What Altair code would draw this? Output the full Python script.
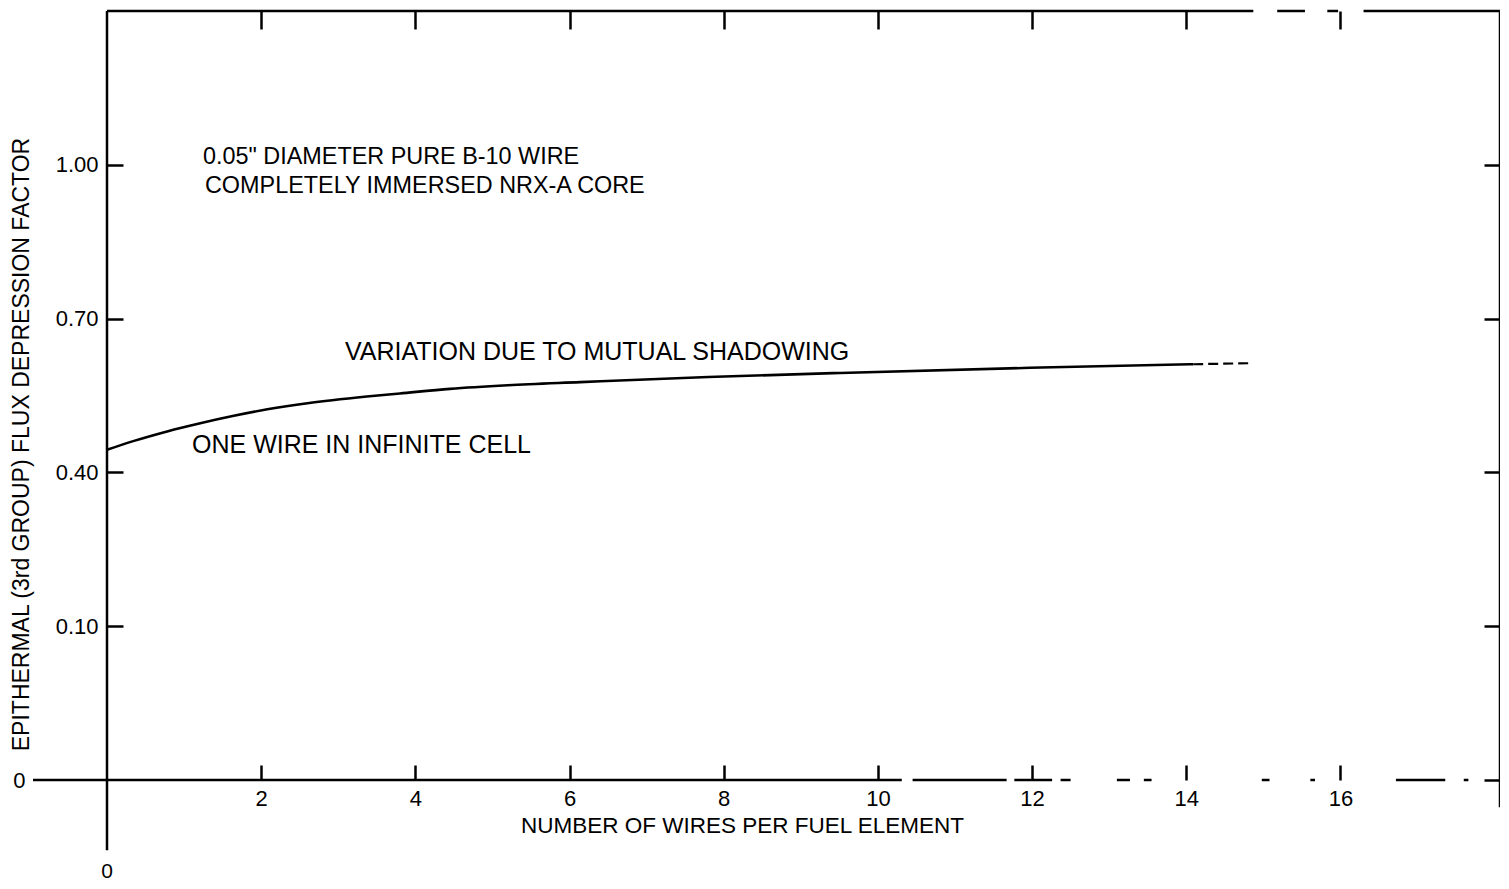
import altair as alt
import pandas as pd

# ---------------- data ----------------
wires = [0, 0.34, 0.78, 1.21, 1.63, 2.08, 2.6, 3.37, 3.8, 4.45, 5.2, 6.14, 7.8, 9.51, 11.97, 14.09]
factor = [0.444, 0.461, 0.480, 0.496, 0.510, 0.523, 0.535, 0.548, 0.554, 0.563, 0.570, 0.576, 0.586, 0.594, 0.604, 0.611]
wires_ext = [14.09, 14.83]
factor_ext = [0.611, 0.613]

x_ticks = [2, 4, 6, 8, 10, 12, 14, 16]
y_ticks = [-0.2, 0.1, 0.4, 0.7, 1.0]
y_inner_ticks = [0.1, 0.4, 0.7, 1.0]
x_domain = [0, 18.07]
y_domain = [-0.2, 1.30]

# frame / axis-line segments (data units)
seg_x1 = [0, 15.18, 15.83, 16.30, 18.07, 0, -0.96, 10.45, 11.77, 12.37, 13.10, 13.45, 14.98, 15.61, 16.72, 17.60]
seg_x2 = [14.87, 15.54, 15.97, 18.07, 18.07, 0, 10.31, 11.67, 12.26, 12.50, 13.27, 13.55, 15.08, 15.67, 17.36, 17.66]
seg_y1 = [1.30, 1.30, 1.30, 1.30, 1.30, 1.30, -0.2, -0.2, -0.2, -0.2, -0.2, -0.2, -0.2, -0.2, -0.2, -0.2]
seg_y2 = [1.30, 1.30, 1.30, 1.30, -0.253, -0.337, -0.2, -0.2, -0.2, -0.2, -0.2, -0.2, -0.2, -0.2, -0.2, -0.2]

box_text = ['0.05" DIAMETER PURE B-10 WIRE', "COMPLETELY IMMERSED NRX-A CORE"]
box_x = [1.245, 1.271]
box_y = [1.015, 0.959]

curve_text = ["VARIATION DUE TO MUTUAL SHADOWING", "ONE WIRE IN INFINITE CELL"]
curve_text_x = [3.087, 1.103]
curve_text_y = [0.635, 0.453]

origin_text = ["0"]
origin_x = [0]
origin_y = [-0.3795]

# ---------------- layout ----------------
W, H = 1393, 769
FONT = "Liberation Sans"

curve_df = pd.DataFrame({"wires": wires, "factor": factor})
ext_df = pd.DataFrame({"wires": wires_ext, "factor": factor_ext})
seg_df = pd.DataFrame({"x": seg_x1, "x2": seg_x2, "y": seg_y1, "y2": seg_y2})
box_df = pd.DataFrame({"t": box_text, "x": box_x, "y": box_y})
ctext_df = pd.DataFrame({"t": curve_text, "x": curve_text_x, "y": curve_text_y})
origin_df = pd.DataFrame({"t": origin_text, "x": origin_x, "y": origin_y})

xs = alt.Scale(domain=x_domain, nice=False, zero=False)
ys = alt.Scale(domain=y_domain, nice=False, zero=False)

curve = alt.Chart(curve_df).mark_line(
    color="black", strokeWidth=2.6, interpolate="monotone"
).encode(
    x=alt.X("wires:Q", scale=xs, axis=alt.Axis(
        orient="bottom", values=x_ticks, format="d", domain=False, ticks=False, grid=False,
        labelPadding=8, labelFont=FONT, labelFontSize=22, labelColor="black",
        title="NUMBER OF WIRES PER FUEL ELEMENT", titleFont=FONT, titleFontSize=22.5,
        titleFontWeight="normal", titleColor="black", titleX=635, titleY=45,
        titleBaseline="middle", titleAlign="center")),
    y=alt.Y("factor:Q", scale=ys, axis=alt.Axis(
        orient="left", values=y_ticks, domain=False, ticks=False, grid=False,
        labelExpr="datum.value < 0 ? '0' : format(datum.value, '.2f')",
        labelPadding={"condition": {"test": "datum.value < 0", "value": 82}, "value": 9},
        labelFont=FONT, labelFontSize=22, labelColor="black", labelBaseline="middle",
        title="EPITHERMAL (3rd GROUP) FLUX DEPRESSION FACTOR", titleFont=FONT,
        titleFontSize=23, titleFontWeight="normal", titleColor="black",
        titleX=-86, titleY=433, titleBaseline="middle", titleAlign="center", titleAngle=270)),
)

ext = alt.Chart(ext_df).mark_line(
    color="black", strokeWidth=2.2, strokeDash=[10, 5]
).encode(
    x=alt.X("wires:Q", scale=xs, axis=alt.Axis(
        orient="top", offset=-H, values=x_ticks, labels=False, domain=False, grid=False,
        tickSize=15, tickWidth=2.5, tickColor="black", title=None)),
    y=alt.Y("factor:Q", scale=ys, axis=alt.Axis(
        orient="right", offset=-W, values=y_inner_ticks, labels=False, domain=False, grid=False,
        tickSize=16, tickWidth=2.5, tickColor="black", title=None)),
)

frame = alt.Chart(seg_df).mark_rule(color="black", strokeWidth=2.5, strokeCap="butt").encode(
    x=alt.X("x:Q", scale=xs, axis=alt.Axis(
        orient="bottom", offset=-H, values=x_ticks, labels=False, domain=False, grid=False,
        tickSize=18, tickWidth=2.5, tickColor="black", title=None)),
    x2="x2:Q",
    y=alt.Y("y:Q", scale=ys, axis=alt.Axis(
        orient="left", offset=-W, values=y_ticks, labels=False, domain=False, grid=False,
        tickSize=16, tickWidth=2.5, tickColor="black", title=None)),
    y2="y2:Q",
)


def text_layer(df, size, align):
    return alt.Chart(df).mark_text(
        align=align, baseline="middle", font=FONT, fontSize=size, color="black"
    ).encode(
        x=alt.X("x:Q", scale=xs, axis=None),
        y=alt.Y("y:Q", scale=ys, axis=None),
        text="t:N",
    )


box_notes = text_layer(box_df, 23.4, "left")
curve_notes = text_layer(ctext_df, 25, "left")
origin_note = text_layer(origin_df, 21, "center")

chart = alt.layer(curve, ext, frame, box_notes, curve_notes, origin_note).resolve_axis(
    x="independent", y="independent"
).properties(
    width=W, height=H,
    autosize=alt.AutoSizeParams(type="none"),
    padding={"left": 99, "top": 3, "right": 0, "bottom": 101},
    background="white",
).configure_view(strokeWidth=0)

chart.save("out.html", embed_options={"renderer": "svg", "actions": False})
